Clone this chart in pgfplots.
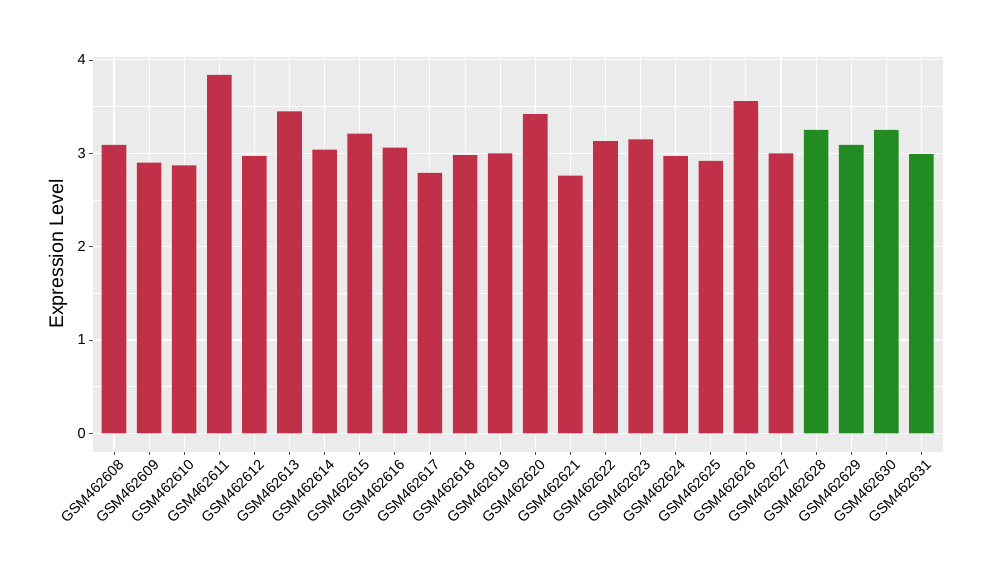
\documentclass[border=0pt]{standalone}
\usepackage{pgfplots}
\pgfplotsset{compat=1.18}
\usepackage{fontspec}
\setmainfont{Liberation Sans}
\definecolor{barred}{RGB}{192,48,72}
\definecolor{bargreen}{RGB}{34,139,34}
\definecolor{panelgray}{RGB}{235,235,235}
\definecolor{ticklab}{RGB}{77,77,77}
\begin{document}
\begin{tikzpicture}[x=1bp,y=1bp]
\path[use as bounding box,fill=white] (0,0) rectangle (1000,580);
\begin{axis}[
  at={(92.7bp,128.3bp)}, anchor=south west,
  scale only axis, width=850bp, height=395bp,
  xmin=0.394, xmax=24.606, ymin=-0.197, ymax=4.035,
  axis background/.style={fill=panelgray},
  axis line style={draw=none},
  ybar, bar width=0.7, bar shift=0pt,
  xtick={1,...,24},
  xticklabels={GSM462608,GSM462609,GSM462610,GSM462611,GSM462612,GSM462613,GSM462614,GSM462615,GSM462616,GSM462617,GSM462618,GSM462619,GSM462620,GSM462621,GSM462622,GSM462623,GSM462624,GSM462625,GSM462626,GSM462627,GSM462628,GSM462629,GSM462630,GSM462631},
  x tick label style={rotate=45, anchor=north east, font=\fontsize{14.6}{14.6}\selectfont, text=black, inner sep=0bp, xshift=0bp, yshift=-5bp},
  ytick={0,1,2,3,4},
  minor ytick={0.5,1.5,2.5,3.5},
  y tick label style={font=\fontsize{14.6}{14.6}\selectfont, text=black},
  /pgf/number format/assume math mode=true,
  xtick pos=bottom, ytick pos=left,
  tick align=outside,
  major tick length=3.5bp,
  minor tick length=0pt,
  tick style={color=ticklab, line width=0.8bp},
  grid=both,
  major grid style={white, line width=1.1bp},
  minor grid style={white, line width=0.55bp},
  ylabel={Expression Level},
  ylabel style={font=\fontsize{19.7}{19.7}\selectfont, at={(axis description cs:0,0.5)}, anchor=south, yshift=22bp},
]
\addplot[fill=barred, draw=none] coordinates {
(1,3.09) (2,2.90) (3,2.87) (4,3.84) (5,2.97) (6,3.45) (7,3.04) (8,3.21) (9,3.06) (10,2.79) (11,2.98) (12,3.00) (13,3.42) (14,2.76) (15,3.13) (16,3.15) (17,2.97) (18,2.92) (19,3.56) (20,3.00)
};
\addplot[fill=bargreen, draw=none] coordinates {
(21,3.25) (22,3.09) (23,3.25) (24,2.99)
};
\end{axis}
\end{tikzpicture}
\end{document}
